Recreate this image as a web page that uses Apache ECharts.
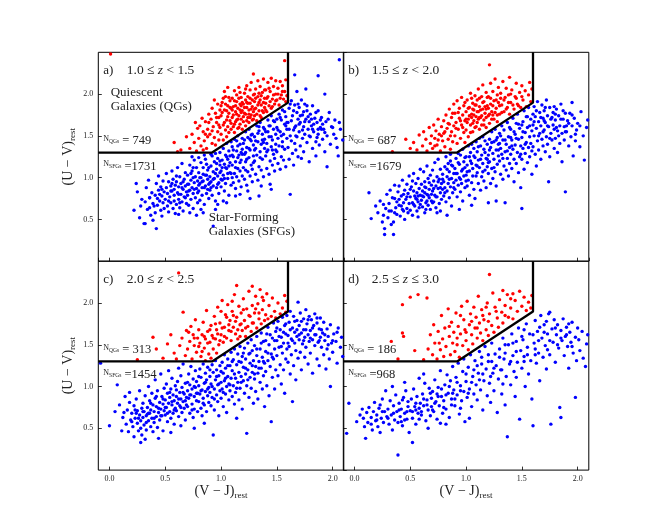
<!DOCTYPE html>
<html>
<head>
<meta charset="utf-8">
<script src="https://cdn.jsdelivr.net/npm/echarts@6/dist/echarts.min.js"></script>
<style>
  html, body { margin: 0; padding: 0; background: #fff; }
  #chart { width: 654px; height: 523px; }
</style>
</head>
<body>
<div id="chart"></div>
<script>
// panel text
const panelTags = ['a)', 'b)', 'c)', 'd)'];
const zLow = ['1.0', '1.5', '2.0', '2.5'];
const zHigh = ['1.5', '2.0', '2.5', '3.0'];
const zUpperOp = ['<', '<', '<', '≤'];
const nQGs = [749, 687, 313, 186];
const nSFGs = [1731, 1679, 1454, 968];

// axis ranges / ticks
const vjRange = [-0.1, 2.1];
const uvRange = [0, 2.5];
const uvStep = 0.5;

// UVJ selection box (V-J, U-V)
const uvjBox = [[-0.1, 1.3], [0.92, 1.3], [1.6, 1.898], [1.6, 2.5]];

// points, flat (V-J, U-V) pairs
const qgA = [0.58,1.42, 0.64,1.33, 0.69,1.49, 0.61,1.31, 0.72,1.35, 0.74,1.52, 0.76,1.42, 0.79,1.59, 0.78,1.32, 0.77,1.66,
  0.80,1.47, 0.81,1.62, 0.82,1.38, 0.83,1.71, 0.84,1.55, 0.85,1.44, 0.86,1.67, 0.87,1.35, 0.88,1.58, 0.89,1.76, 0.84,1.33, 0.88,1.49,
  0.90,1.52, 0.91,1.70, 0.92,1.41, 0.92,1.83, 0.93,1.61, 0.94,1.48, 0.95,1.77, 0.95,1.39, 0.96,1.66, 0.97,1.55, 0.97,1.88, 0.98,1.45, 0.98,1.72, 0.99,1.60, 0.99,1.81, 0.94,1.93,
  1.00,1.52, 1.00,1.74, 1.01,1.90, 1.02,1.63, 1.02,1.45, 1.03,1.81, 1.04,1.57, 1.04,1.97, 1.05,1.69, 1.05,1.49, 1.06,1.86, 1.06,1.61, 1.07,1.77, 1.07,1.54, 1.08,1.92, 1.08,1.68, 1.09,1.83, 1.09,1.58, 1.03,2.03, 1.06,2.08,
  1.10,1.72, 1.10,1.95, 1.11,1.61, 1.11,1.85, 1.12,2.04, 1.12,1.54, 1.13,1.79, 1.13,1.67, 1.14,1.91, 1.14,1.99, 1.15,1.59, 1.15,1.83, 1.16,1.74, 1.16,2.08, 1.17,1.64, 1.17,1.88, 1.18,1.96, 1.18,1.70, 1.19,1.80, 1.19,1.58, 1.14,1.76, 1.17,1.81,
  1.20,1.88, 1.20,1.67, 1.21,2.01, 1.21,1.77, 1.22,1.93, 1.22,1.62, 1.23,1.84, 1.23,2.10, 1.24,1.72, 1.24,1.97, 1.25,1.81, 1.25,1.66, 1.26,2.05, 1.26,1.89, 1.27,1.75, 1.27,2.14, 1.28,1.85, 1.28,1.69, 1.29,1.99, 1.29,1.79, 1.29,2.24, 1.23,1.90,
  1.30,1.91, 1.30,1.74, 1.31,2.06, 1.31,1.83, 1.32,1.68, 1.33,1.97, 1.33,2.16, 1.34,1.80, 1.35,1.93, 1.35,2.09, 1.36,1.72, 1.36,1.87, 1.37,2.02, 1.38,1.78, 1.38,2.18, 1.39,1.95, 1.39,1.84,
  1.40,1.89, 1.40,2.05, 1.41,1.79, 1.42,1.97, 1.42,2.14, 1.43,1.86, 1.44,2.03, 1.45,1.83, 1.45,2.19, 1.46,1.94, 1.47,2.09, 1.48,1.88, 1.49,2.00, 1.49,2.16,
  1.50,1.93, 1.51,2.07, 1.52,1.87, 1.53,2.15, 1.54,1.99, 1.55,2.10, 1.56,1.94, 1.57,2.03, 1.58,2.17, 1.59,1.98, 1.58,1.91,
  0.01,2.48, 1.57,2.40,
  1.01,1.78, 1.03,1.66, 1.04,1.88, 1.06,1.73, 1.08,1.84, 1.09,1.65, 1.11,1.75, 1.12,1.92, 1.13,1.86, 1.15,1.70, 1.16,1.95, 1.17,2.02, 1.18,1.78, 1.19,1.90, 1.20,1.73,
  1.21,1.84, 1.22,2.06, 1.23,1.68, 1.24,1.89, 1.25,1.76, 1.26,1.95, 1.27,1.82, 1.28,1.93, 1.29,1.70, 1.30,1.82, 1.31,1.95, 1.32,1.76, 1.33,1.87, 1.34,2.01, 1.35,1.74,
  1.36,1.98, 1.37,1.80, 1.38,1.90, 1.40,1.81, 1.41,1.95, 1.43,2.07, 1.44,1.91, 1.46,1.85, 1.47,1.99, 1.49,1.92, 1.51,2.00, 1.53,1.95, 1.55,2.03, 0.96,1.72, 0.98,1.63,
  1.00,1.86, 1.02,1.95, 1.05,1.80, 1.07,1.96, 1.10,1.81, 1.14,1.69, 1.18,1.86, 1.22,1.76, 1.26,1.72, 1.30,2.00, 1.34,1.90, 1.39,2.05, 0.92,1.56, 0.89,1.66, 0.86,1.52,
  1.12,1.64, 1.16,1.60];

const sfgA = [0.22,0.61, 0.25,0.83, 0.27,0.52, 0.29,0.74, 0.24,0.93, 0.28,0.66,
  0.31,0.45, 0.32,0.71, 0.33,0.88, 0.34,0.62, 0.35,0.97, 0.36,0.76, 0.37,0.55, 0.38,0.82, 0.39,0.49, 0.39,0.69, 0.42,0.39, 0.36,0.64,
  0.41,0.58, 0.41,0.79, 0.42,0.93, 0.43,0.67, 0.44,0.85, 0.44,1.02, 0.45,0.72, 0.46,0.61, 0.46,0.89, 0.47,0.78, 0.47,0.54, 0.48,0.96, 0.48,0.70, 0.49,0.83, 0.49,0.63, 0.45,0.80,
  0.50,0.74, 0.51,0.88, 0.51,1.05, 0.52,0.66, 0.52,0.81, 0.53,0.95, 0.53,0.59, 0.54,0.77, 0.55,0.90, 0.55,0.70, 0.56,1.08, 0.56,0.84, 0.57,0.63, 0.57,0.98, 0.58,0.79, 0.58,0.72, 0.59,0.91, 0.59,0.57, 0.55,0.84, 0.58,0.86,
  0.60,0.68, 0.60,0.95, 0.61,0.82, 0.61,1.12, 0.62,0.74, 0.62,0.89, 0.63,1.01, 0.63,0.64, 0.64,0.80, 0.64,0.93, 0.65,0.71, 0.65,1.17, 0.66,0.86, 0.66,0.60, 0.67,0.98, 0.67,0.77, 0.68,0.90, 0.68,1.06, 0.69,0.83, 0.69,0.69, 0.62,0.56, 0.66,0.95,
  0.70,0.79, 0.70,1.03, 0.71,0.92, 0.71,0.67, 0.72,1.15, 0.72,0.85, 0.73,0.97, 0.73,0.74, 0.74,1.08, 0.74,0.88, 0.75,0.63, 0.75,0.81, 0.76,1.21, 0.76,0.94, 0.77,0.76, 0.77,1.01, 0.78,0.87, 0.78,1.12, 0.79,0.70, 0.79,0.96, 0.72,0.58, 0.75,1.00, 0.78,0.55, 0.74,1.25,
  0.80,0.84, 0.80,1.06, 0.81,0.93, 0.81,0.73, 0.82,1.18, 0.82,1.00, 0.83,0.88, 0.83,0.79, 0.84,1.12, 0.84,0.96, 0.85,1.27, 0.85,0.68, 0.86,1.03, 0.86,0.90, 0.87,0.81, 0.87,1.16, 0.88,0.98, 0.88,1.09, 0.89,0.75, 0.89,0.92, 0.82,0.62, 0.86,1.22, 0.88,0.86, 0.84,0.58, 0.80,1.24,
  0.90,1.01, 0.90,0.85, 0.91,1.14, 0.91,0.95, 0.92,1.26, 0.92,0.79, 0.93,1.07, 0.93,0.90, 0.94,1.19, 0.94,0.99, 0.95,0.72, 0.95,1.29, 0.96,1.10, 0.96,0.88, 0.97,1.02, 0.97,1.23, 0.98,0.94, 0.98,0.81, 0.99,1.15, 0.99,1.30, 0.93,0.42, 0.95,0.62, 0.97,0.68, 0.91,1.28, 0.99,1.06,
  1.00,1.08, 1.00,0.89, 1.01,1.21, 1.01,0.97, 1.02,1.35, 1.02,1.03, 1.03,0.84, 1.03,1.16, 1.04,1.27, 1.04,0.93, 1.05,1.41, 1.05,1.11, 1.06,0.99, 1.06,1.22, 1.07,0.79, 1.07,1.32, 1.08,1.06, 1.08,1.18, 1.09,0.91, 1.09,1.43, 1.02,0.72, 1.05,0.70, 1.08,1.26, 1.04,1.12, 1.10,1.00,
  1.10,1.15, 1.10,1.37, 1.11,0.94, 1.11,1.25, 1.12,1.05, 1.12,1.46, 1.13,0.87, 1.13,1.19, 1.14,1.32, 1.14,1.01, 1.15,1.11, 1.15,1.50, 1.16,0.96, 1.16,1.27, 1.17,1.40, 1.17,1.08, 1.18,0.89, 1.18,1.21, 1.19,1.34, 1.19,1.47, 1.13,0.78, 1.17,0.80, 1.15,1.24, 1.19,1.02,
  1.20,1.12, 1.20,1.41, 1.21,0.98, 1.21,1.28, 1.22,1.55, 1.22,1.19, 1.23,0.91, 1.23,1.36, 1.24,1.07, 1.24,1.48, 1.25,1.24, 1.25,1.58, 1.26,1.02, 1.26,1.33, 1.27,1.15, 1.27,1.44, 1.28,0.95, 1.28,1.52, 1.29,1.26, 1.29,1.39, 1.24,0.84, 1.26,0.75, 1.22,1.30, 1.28,1.10,
  1.30,1.20, 1.30,1.49, 1.31,1.04, 1.31,1.35, 1.32,1.62, 1.32,1.27, 1.33,0.97, 1.33,1.43, 1.34,1.13, 1.34,1.56, 1.35,1.31, 1.35,1.66, 1.36,1.09, 1.36,1.40, 1.37,1.22, 1.37,1.52, 1.38,1.01, 1.38,1.60, 1.39,1.35, 1.39,1.46, 1.34,0.78, 1.36,0.90,
  1.40,1.26, 1.40,1.55, 1.41,1.11, 1.41,1.41, 1.42,1.69, 1.42,1.33, 1.43,1.04, 1.43,1.49, 1.44,1.20, 1.44,1.62, 1.45,1.37, 1.45,1.74, 1.46,1.15, 1.46,1.45, 1.47,1.28, 1.47,1.58, 1.48,1.08, 1.48,1.67, 1.49,1.40, 1.49,1.52, 1.44,0.92, 1.48,1.23,
  1.50,1.31, 1.50,1.60, 1.51,1.17, 1.51,1.47, 1.52,1.76, 1.52,1.38, 1.53,1.10, 1.53,1.55, 1.54,1.25, 1.54,1.69, 1.55,1.43, 1.55,1.81, 1.56,1.21, 1.56,1.52, 1.57,1.34, 1.57,1.64, 1.58,1.13, 1.58,1.73, 1.59,1.47, 1.59,1.58,
  1.60,1.36, 1.60,1.66, 1.61,1.22, 1.61,1.83, 1.62,1.50, 1.62,0.80, 1.63,1.44, 1.63,1.92, 1.64,1.29, 1.64,1.74, 1.65,1.57, 1.65,1.15, 1.66,1.41, 1.66,1.87, 1.67,1.62, 1.67,1.33, 1.68,1.78, 1.68,1.49, 1.69,1.25, 1.69,1.70,
  1.70,1.55, 1.70,1.84, 1.71,1.38, 1.71,1.66, 1.72,1.23, 1.72,1.93, 1.73,1.47, 1.73,1.75, 1.74,1.61, 1.74,1.31, 1.75,1.88, 1.75,1.52, 1.76,1.70, 1.77,1.42, 1.77,1.80, 1.78,1.58, 1.79,1.19, 1.79,1.67,
  1.80,1.49, 1.80,1.76, 1.81,1.62, 1.82,1.35, 1.82,1.86, 1.83,1.55, 1.84,1.71, 1.85,1.43, 1.85,1.26, 1.86,1.66, 1.87,1.80, 1.87,1.52, 1.88,1.39, 1.89,1.60,
  1.90,1.72, 1.91,1.46, 1.92,1.58, 1.93,1.31, 1.94,1.67, 1.95,1.13, 1.95,1.50, 1.97,1.78, 1.98,1.40, 1.99,1.61,
  2.01,1.52, 2.02,1.69, 2.04,1.36, 2.05,1.26, 2.07,1.58, 2.09,1.45,
  2.06,2.41, 1.93,2.00, 1.66,2.23, 1.87,2.22, 1.76,2.06, 1.68,2.03, 1.45,0.86, 0.32,0.45, 0.36,0.76,
  0.62,0.80, 0.65,0.88, 0.68,0.76, 0.71,0.84, 0.73,1.05, 0.76,0.86, 0.79,0.82, 0.81,1.00, 0.83,0.95, 0.85,0.88, 0.87,1.03, 0.89,1.12, 0.91,0.88, 0.93,0.98, 0.95,1.05,
  0.97,0.92, 0.99,1.20, 1.01,1.12, 1.03,0.99, 1.05,1.25, 1.07,1.14, 1.09,1.05, 1.11,1.33, 1.13,1.12, 1.15,1.38, 1.17,1.18, 1.19,1.28, 1.21,1.45, 1.23,1.22, 1.25,1.35,
  1.27,1.51, 1.29,1.18, 1.31,1.44, 1.33,1.53, 1.35,1.24, 1.37,1.45, 1.39,1.58, 1.41,1.31, 1.43,1.62, 1.45,1.49, 1.47,1.68, 1.49,1.33, 1.51,1.57, 1.53,1.72, 1.55,1.37,
  1.57,1.79, 1.59,1.66, 1.61,1.58, 1.63,1.68, 1.65,1.80, 1.67,1.50, 1.69,1.88, 1.71,1.74, 1.73,1.57, 1.75,1.67, 1.77,1.86, 1.79,1.50, 1.81,1.70, 1.83,1.64, 1.85,1.78,
  1.87,1.58, 1.89,1.69, 1.91,1.64, 1.93,1.54, 1.96,1.70, 2.00,1.60, 2.03,1.47, 2.06,1.66, 0.56,0.93, 0.60,1.02, 0.53,0.72, 0.47,0.86, 0.43,0.75, 0.40,0.66, 0.63,0.70,
  0.70,0.92, 0.75,1.12, 0.80,0.91, 0.84,1.04, 0.90,0.94, 0.96,1.17, 1.00,0.98, 1.06,1.05, 1.10,1.27, 1.14,1.44, 1.18,1.30, 1.22,1.09, 1.26,1.46, 1.30,1.33, 1.34,1.61,
  1.38,1.42, 1.42,1.55, 1.46,1.33, 1.50,1.70, 1.54,1.50, 1.58,1.62, 1.62,1.88, 1.66,1.60, 1.70,1.64, 1.74,1.79, 1.78,1.73, 1.82,1.58, 1.86,1.48, 1.90,1.58];

const qgB = [0.34,1.31, 0.46,1.46, 0.50,1.35, 0.53,1.42, 0.56,1.33, 0.58,1.51,
  0.61,1.38, 0.62,1.55, 0.64,1.46, 0.65,1.32, 0.67,1.60, 0.68,1.41, 0.69,1.50,
  0.70,1.35, 0.71,1.63, 0.72,1.47, 0.73,1.56, 0.74,1.39, 0.75,1.70, 0.76,1.52, 0.77,1.32, 0.78,1.61, 0.79,1.44,
  0.80,1.68, 0.80,1.53, 0.81,1.37, 0.82,1.75, 0.83,1.59, 0.84,1.46, 0.85,1.82, 0.85,1.64, 0.86,1.34, 0.87,1.55, 0.87,1.72, 0.88,1.43, 0.89,1.62, 0.89,1.88,
  0.90,1.50, 0.90,1.77, 0.91,1.66, 0.92,1.41, 0.92,1.92, 0.93,1.58, 0.94,1.71, 0.94,1.83, 0.95,1.47, 0.96,1.63, 0.96,1.96, 0.97,1.75, 0.98,1.54, 0.98,1.86, 0.99,1.68, 0.99,1.42,
  1.00,1.79, 1.00,1.57, 1.01,1.93, 1.02,1.70, 1.02,1.49, 1.03,1.84, 1.04,1.63, 1.04,2.01, 1.05,1.76, 1.06,1.55, 1.06,1.89, 1.07,1.68, 1.07,1.81, 1.08,1.98, 1.08,1.60, 1.09,1.73, 1.09,1.87, 1.05,1.72,
  1.10,1.66, 1.10,1.93, 1.11,1.79, 1.11,2.06, 1.12,1.58, 1.12,1.85, 1.13,1.72, 1.14,1.97, 1.14,1.63, 1.15,1.82, 1.15,2.11, 1.16,1.69, 1.16,1.91, 1.17,1.77, 1.18,2.02, 1.18,1.60, 1.19,1.86, 1.21,2.35,
  1.20,1.74, 1.20,1.97, 1.21,1.65, 1.22,1.88, 1.22,2.13, 1.23,1.79, 1.24,2.03, 1.25,1.70, 1.25,1.92, 1.26,2.18, 1.27,1.83, 1.28,1.99, 1.28,1.67, 1.29,2.08, 1.29,1.90,
  1.30,1.76, 1.31,2.01, 1.32,1.87, 1.33,2.15, 1.34,1.79, 1.35,1.96, 1.36,2.07, 1.37,1.84, 1.38,1.99, 1.39,1.76, 1.39,2.20,
  1.40,1.90, 1.41,2.05, 1.43,1.82, 1.44,1.97, 1.45,2.13, 1.46,1.88, 1.48,2.02, 1.49,1.84,
  1.50,2.10, 1.51,1.93, 1.53,2.04, 1.54,1.85, 1.56,1.99, 1.57,2.14, 1.58,1.91, 1.59,2.06,
  0.91,1.59, 0.93,1.78, 0.95,1.68, 0.97,1.60, 0.99,1.90, 1.01,1.66, 1.02,1.83, 1.03,1.74, 1.04,1.54, 1.05,1.95, 1.06,1.65, 1.07,1.75, 1.08,1.87, 1.09,1.61, 1.10,1.79,
  1.11,1.70, 1.12,1.95, 1.13,1.81, 1.14,1.74, 1.15,1.90, 1.16,1.63, 1.17,1.85, 1.18,1.72, 1.19,1.96, 1.20,1.83, 1.21,1.76, 1.22,1.95, 1.23,1.70, 1.24,1.86, 1.26,1.78,
  1.27,1.93, 1.28,1.75, 1.30,1.86, 1.31,1.95, 1.32,1.78, 1.34,1.93, 1.36,1.82, 1.38,1.90, 1.40,2.00, 1.42,1.87, 1.45,1.95, 1.47,1.86, 1.50,1.97, 0.84,1.65, 0.86,1.50,
  0.88,1.77, 0.81,1.55, 0.78,1.50, 0.75,1.45, 0.72,1.38, 1.00,1.70, 1.06,1.82, 1.12,1.72, 1.18,1.82, 1.24,1.75];

const sfgB = [0.13,0.82, 0.15,0.51, 0.19,0.66,
  0.21,0.58, 0.23,0.72, 0.25,0.47, 0.27,0.39, 0.27,0.32, 0.28,0.63, 0.29,0.80, 0.26,0.55,
  0.30,0.52, 0.31,0.69, 0.32,0.85, 0.33,0.60, 0.34,0.76, 0.35,0.32, 0.35,0.47, 0.36,0.91, 0.37,0.64, 0.38,0.71, 0.38,0.56, 0.39,0.83, 0.33,0.44, 0.36,0.58,
  0.40,0.67, 0.40,0.90, 0.41,0.54, 0.42,0.78, 0.43,0.62, 0.43,0.97, 0.44,0.70, 0.45,0.85, 0.45,0.50, 0.46,0.74, 0.47,0.63, 0.47,0.92, 0.48,0.81, 0.48,0.58, 0.49,0.69, 0.49,1.02, 0.44,0.80, 0.42,0.66,
  0.50,0.77, 0.50,0.61, 0.51,0.89, 0.52,0.70, 0.52,0.55, 0.53,0.84, 0.53,1.05, 0.54,0.66, 0.55,0.93, 0.55,0.75, 0.56,0.60, 0.56,0.82, 0.57,0.99, 0.57,0.71, 0.58,0.87, 0.58,0.64, 0.59,0.79, 0.59,1.10, 0.54,0.78, 0.57,0.53, 0.52,0.96,
  0.60,0.73, 0.60,0.92, 0.61,0.65, 0.61,0.84, 0.62,1.07, 0.62,0.77, 0.63,0.58, 0.63,0.95, 0.64,0.70, 0.64,0.88, 0.65,1.14, 0.65,0.80, 0.66,0.67, 0.66,0.99, 0.67,0.76, 0.67,0.86, 0.68,1.03, 0.68,0.62, 0.69,0.91, 0.69,0.72, 0.63,0.82, 0.66,0.79,
  0.70,0.84, 0.70,1.09, 0.71,0.71, 0.71,0.96, 0.72,0.79, 0.72,1.18, 0.73,0.64, 0.73,0.90, 0.74,1.01, 0.74,0.77, 0.75,0.87, 0.75,1.22, 0.76,0.69, 0.76,0.98, 0.77,0.82, 0.77,1.10, 0.78,0.93, 0.78,0.74, 0.79,1.04, 0.79,0.86, 0.74,0.58, 0.77,0.60,
  0.80,0.95, 0.80,0.78, 0.81,1.13, 0.81,0.88, 0.82,1.25, 0.82,0.71, 0.83,1.01, 0.83,0.84, 0.84,1.17, 0.84,0.93, 0.85,0.76, 0.85,1.07, 0.86,1.28, 0.86,0.89, 0.87,0.99, 0.87,0.66, 0.88,1.14, 0.88,0.82, 0.89,1.05, 0.89,0.94, 0.83,0.55, 0.86,1.20,
  0.90,1.11, 0.90,0.86, 0.91,1.23, 0.91,0.97, 0.92,0.77, 0.92,1.05, 0.93,1.29, 0.93,0.91, 0.94,1.16, 0.94,1.00, 0.95,0.83, 0.95,1.27, 0.96,1.08, 0.96,0.93, 0.97,1.34, 0.97,0.72, 0.98,1.19, 0.98,1.02, 0.99,0.88, 0.99,1.12, 0.94,0.62,
  1.00,1.03, 1.00,1.25, 1.01,0.90, 1.01,1.15, 1.02,1.38, 1.02,0.97, 1.03,1.08, 1.03,0.79, 1.04,1.30, 1.04,1.20, 1.05,0.94, 1.05,1.40, 1.06,1.11, 1.06,1.02, 1.07,1.35, 1.07,0.86, 1.08,1.24, 1.08,0.75, 1.09,1.15, 1.09,1.43, 1.05,0.67,
  1.10,1.06, 1.10,1.31, 1.11,0.93, 1.11,1.21, 1.12,1.47, 1.12,1.12, 1.13,0.85, 1.13,1.38, 1.14,1.01, 1.14,1.27, 1.15,1.17, 1.15,1.49, 1.16,0.96, 1.16,1.34, 1.17,1.09, 1.17,1.44, 1.18,1.23, 1.18,0.88, 1.19,1.40, 1.19,1.13, 1.20,0.70,
  1.20,1.27, 1.20,1.05, 1.21,1.46, 1.21,1.19, 1.22,0.93, 1.22,1.36, 1.23,1.55, 1.23,1.11, 1.24,1.29, 1.24,0.99, 1.25,1.43, 1.25,1.22, 1.26,1.58, 1.26,1.07, 1.27,1.33, 1.27,0.90, 1.28,1.48, 1.28,1.16, 1.29,1.26, 1.29,1.40, 1.27,0.72,
  1.30,1.20, 1.30,1.53, 1.31,1.04, 1.31,1.35, 1.32,1.62, 1.32,1.28, 1.33,0.98, 1.33,1.45, 1.34,1.14, 1.34,1.57, 1.35,1.31, 1.35,0.70, 1.36,1.40, 1.36,1.09, 1.37,1.66, 1.37,1.23, 1.38,1.49, 1.38,1.02, 1.39,1.36, 1.39,1.17,
  1.40,1.28, 1.40,1.58, 1.41,1.45, 1.41,1.11, 1.42,1.71, 1.42,1.34, 1.43,1.22, 1.43,0.95, 1.44,1.52, 1.44,1.39, 1.45,1.65, 1.45,1.17, 1.46,1.30, 1.46,1.76, 1.47,1.46, 1.47,1.06, 1.48,1.59, 1.48,1.25, 1.49,1.38, 1.49,0.88, 1.50,0.63,
  1.50,1.48, 1.50,1.22, 1.51,1.67, 1.51,1.35, 1.52,1.80, 1.52,1.10, 1.53,1.54, 1.53,1.29, 1.54,1.42, 1.54,1.73, 1.55,1.18, 1.55,1.60, 1.56,1.36, 1.56,1.84, 1.57,1.49, 1.57,1.25, 1.58,1.70, 1.58,1.41, 1.59,1.56, 1.59,1.04,
  1.60,1.63, 1.60,1.37, 1.61,1.85, 1.61,1.50, 1.62,1.28, 1.62,1.73, 1.63,1.59, 1.63,1.14, 1.64,1.44, 1.64,1.91, 1.65,1.67, 1.65,1.33, 1.66,1.78, 1.66,1.53, 1.67,1.22, 1.67,1.62, 1.68,1.87, 1.68,1.46, 1.69,1.71, 1.69,1.38,
  1.70,1.57, 1.70,1.80, 1.71,1.31, 1.71,1.66, 1.72,1.49, 1.72,1.93, 1.73,1.74, 1.73,1.40, 1.74,0.95, 1.74,1.61, 1.75,1.84, 1.75,1.25, 1.76,1.53, 1.76,1.70, 1.77,1.45, 1.78,1.78, 1.78,1.63, 1.79,1.35, 1.79,1.58,
  1.80,1.69, 1.80,1.47, 1.81,1.82, 1.82,1.56, 1.82,1.30, 1.83,1.74, 1.84,1.62, 1.84,1.41, 1.85,1.88, 1.86,1.53, 1.86,1.19, 1.87,1.70, 1.88,1.45, 1.88,1.61, 1.89,0.83, 1.89,1.77,
  1.90,1.55, 1.91,1.68, 1.92,1.38, 1.93,1.77, 1.94,1.49, 1.95,1.90, 1.95,1.62, 1.96,1.26, 1.97,1.71, 1.98,1.44, 1.99,1.57,
  2.00,1.65, 2.02,1.37, 2.03,1.79, 2.05,1.50, 2.06,1.21, 2.08,1.60, 2.09,1.69,
  0.40,0.74, 0.44,0.60, 0.47,0.77, 0.50,0.86, 0.53,0.68, 0.56,0.74, 0.59,0.68, 0.61,0.78, 0.63,0.89, 0.65,0.72, 0.67,0.94, 0.69,0.80, 0.71,0.87, 0.73,0.77, 0.75,0.95,
  0.77,0.88, 0.79,0.98, 0.81,0.82, 0.83,1.10, 0.85,0.98, 0.87,1.15, 0.89,0.88, 0.91,1.05, 0.93,1.18, 0.95,0.98, 0.97,1.10, 0.99,1.24, 1.01,1.07, 1.03,1.25, 1.05,1.17,
  1.07,1.26, 1.09,1.02, 1.11,1.37, 1.13,1.22, 1.15,1.07, 1.17,1.30, 1.19,1.22, 1.21,1.33, 1.23,1.42, 1.25,1.12, 1.27,1.45, 1.29,1.33, 1.31,1.50, 1.33,1.23, 1.35,1.45,
  1.37,1.32, 1.39,1.60, 1.41,1.38, 1.43,1.55, 1.45,1.47, 1.47,1.64, 1.49,1.28, 1.51,1.55, 1.53,1.40, 1.55,1.73, 1.57,1.62, 1.59,1.32, 1.61,1.67, 1.63,1.80, 1.65,1.50,
  1.67,1.72, 1.69,1.55, 1.71,1.84, 1.73,1.62, 1.75,1.47, 1.77,1.72, 1.79,1.85, 1.81,1.60, 1.83,1.50, 1.85,1.70, 1.87,1.80, 1.89,1.55, 1.92,1.65, 1.95,1.75, 1.98,1.52,
  2.02,1.62, 0.36,0.75, 0.31,0.60, 0.26,0.68, 0.57,0.78, 0.64,0.62, 0.70,0.70, 1.00,0.96, 1.10,1.14, 1.20,1.18, 1.30,1.41, 1.40,1.48, 1.50,1.63, 1.60,1.76, 1.70,1.68,
  1.80,1.76, 1.90,1.62];

const qgC = [0.25,1.32, 0.39,1.59, 0.48,1.34, 0.42,1.45, 0.52,1.51, 0.55,1.62, 0.58,1.40, 0.60,1.33, 0.62,2.36, 0.66,1.89,
  0.63,1.49, 0.65,1.58, 0.68,1.37, 0.69,1.67, 0.70,1.45, 0.72,1.54, 0.73,1.72, 0.74,1.33, 0.75,1.62, 0.76,1.49,
  0.77,1.80, 0.78,1.41, 0.79,1.58, 0.80,1.68, 0.81,1.52, 0.82,1.36, 0.83,1.62, 0.84,1.77, 0.85,1.46, 0.86,1.57,
  0.87,1.91, 0.88,1.66, 0.89,1.39, 0.90,1.53, 0.91,1.73, 0.92,1.61, 0.93,1.45, 0.94,1.84, 0.95,1.57, 0.96,1.68,
  0.97,1.95, 0.98,1.50, 0.99,1.76, 1.00,1.62, 1.01,2.03, 1.02,1.53, 1.03,1.71, 1.04,1.86, 1.05,1.58, 1.06,1.98,
  1.07,1.67, 1.08,1.79, 1.09,1.55, 1.10,1.90, 1.11,1.71, 1.12,2.10, 1.13,1.63, 1.14,1.83, 1.14,2.21, 1.15,1.57,
  1.16,1.96, 1.17,1.74, 1.18,1.88, 1.19,1.67, 1.20,2.05, 1.21,1.79, 1.22,1.60, 1.23,1.93, 1.24,1.72, 1.25,2.14,
  1.26,1.84, 1.27,1.66, 1.28,2.20, 1.28,1.97, 1.29,1.76, 1.30,1.88, 1.31,2.08, 1.32,1.70, 1.33,1.99, 1.34,1.81,
  1.35,2.16, 1.36,1.75, 1.37,1.92, 1.38,2.03, 1.39,1.79, 1.40,1.86, 1.41,2.11, 1.42,1.81, 1.43,1.97, 1.45,1.84,
  1.46,2.06, 1.48,1.90, 1.49,1.82, 1.51,2.00, 1.53,1.87, 1.55,1.94, 1.57,2.09, 1.58,1.89, 1.59,2.02, 0.96,1.40,
  0.91,1.34, 0.86,1.31,
  0.85,1.60, 0.88,1.52, 0.90,1.68, 0.93,1.58, 0.95,1.75, 0.97,1.63, 0.99,1.55, 1.01,1.70, 1.03,1.60, 1.05,1.83,
  1.07,1.74, 1.09,1.66, 1.11,1.85, 1.13,1.78, 1.15,1.68, 1.18,1.75, 1.20,1.92, 1.22,1.70, 1.25,1.85, 1.28,1.76,
  1.31,1.93, 1.34,1.88, 1.37,2.07, 0.80,1.48, 0.76,1.58, 0.71,1.65, 0.83,1.42, 1.00,1.90, 1.10,2.02, 1.17,1.60];

const sfgC = [-0.08,1.28, 0.00,0.53, 0.07,1.02, 0.09,0.78, 0.05,0.70,
  0.11,0.47, 0.12,0.63, 0.14,0.88, 0.15,0.55, 0.16,0.72, 0.17,0.46, 0.18,0.81, 0.19,0.60, 0.13,0.69, 0.18,0.93,
  0.20,0.68, 0.21,0.52, 0.22,0.77, 0.22,0.40, 0.23,0.62, 0.24,0.85, 0.25,0.56, 0.25,0.71, 0.26,0.47, 0.27,0.66, 0.27,0.95, 0.28,0.33, 0.28,0.59, 0.29,0.74, 0.29,0.42, 0.24,0.68,
  0.30,0.63, 0.30,0.80, 0.31,0.54, 0.31,0.70, 0.32,0.37, 0.32,0.89, 0.33,0.65, 0.33,0.48, 0.34,0.75, 0.35,0.59, 0.35,1.00, 0.36,0.68, 0.36,0.83, 0.37,0.52, 0.37,0.72, 0.38,0.62, 0.38,0.92, 0.39,0.78, 0.39,0.46, 0.34,0.67,
  0.40,0.70, 0.40,0.57, 0.41,0.86, 0.41,1.08, 0.42,0.64, 0.42,0.76, 0.43,0.51, 0.43,0.95, 0.44,0.69, 0.45,0.81, 0.45,0.60, 0.46,1.15, 0.46,0.73, 0.47,0.88, 0.47,0.65, 0.48,0.79, 0.48,0.47, 0.49,0.98, 0.49,0.71, 0.44,0.38,
  0.50,0.84, 0.50,0.66, 0.51,1.03, 0.51,0.75, 0.52,0.92, 0.52,0.58, 0.53,0.80, 0.53,1.19, 0.54,0.70, 0.54,0.87, 0.55,0.62, 0.55,0.97, 0.56,0.78, 0.56,1.10, 0.57,0.68, 0.57,0.90, 0.58,0.83, 0.58,0.55, 0.59,1.01, 0.59,0.74, 0.55,0.45,
  0.60,0.88, 0.60,0.71, 0.61,1.06, 0.61,0.80, 0.62,1.22, 0.62,0.64, 0.63,0.93, 0.63,0.77, 0.64,1.13, 0.64,0.85, 0.65,0.69, 0.65,0.99, 0.66,0.82, 0.66,1.27, 0.67,0.74, 0.67,0.91, 0.68,1.04, 0.68,0.60, 0.69,0.87, 0.69,0.78, 0.64,0.53,
  0.70,0.95, 0.70,0.76, 0.71,1.15, 0.71,0.86, 0.72,0.68, 0.72,1.02, 0.73,0.90, 0.73,1.24, 0.74,0.79, 0.74,0.97, 0.75,1.09, 0.75,0.63, 0.76,0.88, 0.76,0.73, 0.77,1.19, 0.77,0.99, 0.78,0.83, 0.78,1.06, 0.79,0.92, 0.79,0.70, 0.76,0.50,
  0.80,1.01, 0.80,0.82, 0.81,1.21, 0.81,0.91, 0.82,0.74, 0.82,1.11, 0.83,0.96, 0.83,0.65, 0.84,1.27, 0.84,0.86, 0.85,1.04, 0.85,0.78, 0.86,1.16, 0.86,0.94, 0.87,0.70, 0.87,1.08, 0.88,0.89, 0.88,1.23, 0.89,0.99, 0.89,0.81, 0.85,0.56,
  0.90,1.12, 0.90,0.93, 0.91,0.77, 0.91,1.03, 0.92,1.26, 0.92,0.87, 0.93,0.42, 0.93,1.17, 0.94,0.97, 0.94,0.72, 0.95,1.08, 0.95,1.31, 0.96,0.90, 0.96,1.20, 0.97,0.82, 0.97,1.02, 0.98,1.13, 0.98,0.65, 0.99,0.95, 0.99,1.25,
  1.00,1.05, 1.00,0.86, 1.01,1.29, 1.01,0.97, 1.02,1.16, 1.02,0.76, 1.03,1.38, 1.03,1.07, 1.04,0.91, 1.04,1.22, 1.05,1.00, 1.05,0.69, 1.06,1.33, 1.06,1.12, 1.07,0.84, 1.07,1.03, 1.08,1.25, 1.08,0.95, 1.09,1.41, 1.09,1.10,
  1.10,0.88, 1.10,1.19, 1.11,1.32, 1.11,1.01, 1.12,0.79, 1.12,1.45, 1.13,1.10, 1.13,0.93, 1.14,1.26, 1.15,1.05, 1.15,1.39, 1.16,0.84, 1.16,1.17, 1.17,1.48, 1.17,0.98, 1.18,1.29, 1.18,1.12, 1.19,0.73, 1.19,1.36, 1.14,0.62,
  1.20,1.07, 1.20,1.23, 1.21,1.46, 1.21,0.92, 1.22,1.15, 1.22,1.33, 1.23,0.44, 1.23,1.01, 1.24,1.52, 1.24,1.20, 1.25,0.87, 1.25,1.39, 1.26,1.11, 1.26,1.28, 1.27,0.98, 1.27,1.56, 1.28,1.17, 1.28,1.43, 1.29,0.80, 1.29,1.31,
  1.30,1.09, 1.30,1.49, 1.31,1.24, 1.31,0.94, 1.32,1.37, 1.32,1.60, 1.33,1.16, 1.33,0.85, 1.34,1.30, 1.35,1.45, 1.35,1.05, 1.36,1.22, 1.36,1.64, 1.37,0.97, 1.37,1.35, 1.38,1.13, 1.38,1.54, 1.39,1.28, 1.39,0.76,
  1.40,1.42, 1.40,1.18, 1.41,1.63, 1.41,1.01, 1.42,1.31, 1.42,1.71, 1.43,1.50, 1.43,0.89, 1.44,1.24, 1.45,1.39, 1.45,0.58, 1.46,1.58, 1.46,1.11, 1.47,1.33, 1.47,1.76, 1.48,1.45, 1.48,0.97, 1.49,1.20, 1.49,1.66,
  1.50,1.37, 1.50,1.55, 1.51,1.13, 1.51,1.78, 1.52,1.47, 1.53,1.26, 1.53,1.68, 1.54,1.03, 1.54,1.59, 1.55,1.40, 1.55,1.83, 1.56,1.20, 1.56,1.52, 1.57,1.73, 1.57,0.92, 1.58,1.33, 1.58,1.63, 1.59,1.45, 1.59,1.85,
  1.60,1.61, 1.60,1.29, 1.61,1.77, 1.61,1.48, 1.62,1.15, 1.62,1.90, 1.63,1.57, 1.63,1.38, 1.64,1.70, 1.65,1.25, 1.65,1.84, 1.66,1.52, 1.66,1.65, 1.67,1.08, 1.67,1.43, 1.68,1.79, 1.68,1.60, 1.69,2.01, 1.69,1.34, 1.64,0.82,
  1.70,1.56, 1.70,1.73, 1.71,1.41, 1.71,1.88, 1.72,1.64, 1.72,1.20, 1.73,1.51, 1.74,1.81, 1.74,1.68, 1.75,1.35, 1.75,1.59, 1.76,1.92, 1.76,1.47, 1.77,1.75, 1.78,1.62, 1.78,1.27, 1.79,1.54, 1.79,1.84,
  1.80,1.67, 1.80,1.40, 1.81,1.80, 1.82,1.56, 1.82,1.16, 1.83,1.73, 1.84,1.49, 1.84,1.87, 1.85,1.62, 1.86,1.33, 1.86,1.76, 1.87,1.53, 1.88,1.69, 1.88,1.25, 1.89,1.59, 1.89,1.82,
  1.90,1.47, 1.91,1.64, 1.92,1.38, 1.92,1.77, 1.93,1.55, 1.94,1.21, 1.95,1.69, 1.95,1.45, 1.96,1.60, 1.97,1.33, 1.98,1.00, 1.98,1.74, 1.99,1.52,
  2.00,1.41, 2.01,1.63, 2.03,1.54, 2.04,1.28, 2.05,1.70, 2.07,1.47, 2.08,1.59, 2.09,1.36,
  0.20,0.58, 0.23,0.72, 0.26,0.62, 0.28,0.50, 0.30,0.70, 0.33,0.57, 0.35,0.68, 0.37,0.80, 0.40,0.62, 0.42,0.88, 0.44,0.74, 0.46,0.65, 0.48,0.85, 0.50,0.75, 0.52,0.68,
  0.54,0.93, 0.56,0.82, 0.58,0.72, 0.60,0.96, 0.62,0.85, 0.64,0.75, 0.66,0.93, 0.68,0.83, 0.70,1.05, 0.72,0.90, 0.74,0.72, 0.76,1.00, 0.78,0.92, 0.80,1.12, 0.82,0.95,
  0.84,0.80, 0.86,1.05, 0.88,0.97, 0.90,1.20, 0.92,1.00, 0.94,0.85, 0.96,1.12, 0.98,1.03, 1.00,1.18, 1.02,0.93, 1.04,1.10, 1.06,1.25, 1.08,1.02, 1.10,1.30, 1.12,1.15,
  1.14,0.98, 1.16,1.30, 1.18,1.05, 1.20,1.40, 1.22,1.22, 1.24,1.08, 1.26,1.40, 1.28,1.25, 1.30,1.15, 1.32,1.45, 1.34,1.22, 1.36,1.52, 1.38,1.30, 1.40,1.55, 1.42,1.40,
  1.44,1.62, 1.46,1.35, 1.48,1.55, 1.50,1.70, 1.52,1.60, 1.54,1.48, 1.56,1.65, 1.58,1.75, 1.60,1.52, 1.62,1.68, 1.64,1.55, 1.66,1.78, 1.68,1.68, 1.70,1.62, 1.72,1.78,
  1.74,1.55, 1.76,1.68, 1.78,1.80, 1.80,1.58, 1.82,1.70, 1.84,1.62, 1.86,1.82, 1.88,1.55, 1.90,1.68, 1.93,1.62, 1.96,1.50, 2.00,1.55, 2.04,1.65];

const qgD = [1.21,2.34, 0.57,2.10, 0.50,2.07, 0.65,2.06, 0.43,1.98, 0.43,1.64, 0.44,1.60, 0.33,1.54, 0.54,1.43, 0.39,1.33,
  1.59,2.09, 1.42,2.11, 1.33,2.15, 0.62,1.32, 0.66,1.45, 0.68,1.62, 0.70,1.38, 0.71,1.74, 0.72,1.52, 0.74,1.33,
  0.75,1.66, 0.77,1.44, 0.78,1.85, 0.79,1.57, 0.80,1.36, 0.81,1.70, 0.82,1.48, 0.84,1.93, 0.85,1.60, 0.86,1.38,
  0.87,1.77, 0.88,1.52, 0.89,1.65, 0.90,1.42, 0.91,1.88, 0.92,1.58, 0.93,1.72, 0.94,1.35, 0.95,1.63, 0.96,1.96,
  0.97,1.49, 0.98,1.80, 0.99,1.68, 1.00,1.55, 1.01,2.02, 1.02,1.44, 1.03,1.74, 1.04,1.87, 1.05,1.62, 1.06,1.51,
  1.07,1.95, 1.08,1.70, 1.09,1.83, 1.10,1.58, 1.11,2.08, 1.12,1.76, 1.13,1.64, 1.14,1.92, 1.15,1.55, 1.16,1.80,
  1.18,1.68, 1.19,2.00, 1.20,1.61, 1.21,1.87, 1.23,1.73, 1.24,2.12, 1.25,1.65, 1.26,1.95, 1.28,1.82, 1.29,1.71,
  1.30,2.04, 1.32,1.89, 1.33,1.76, 1.35,1.97, 1.37,2.10, 1.38,1.83, 1.40,1.94, 1.42,1.81, 1.44,2.03, 1.46,1.90,
  1.48,2.14, 1.50,1.96, 1.52,2.07, 1.54,1.91, 1.56,2.01, 1.58,1.94,
  0.92,1.50, 1.00,1.65, 1.05,1.78, 1.10,1.70, 1.15,1.85, 1.20,1.78, 1.27,1.90, 1.35,1.85, 0.85,1.72, 0.95,1.85,
  1.18,1.95, 0.76,1.52, 1.40,2.05];

const sfgD = [-0.07,0.44, -0.05,0.80, 0.02,0.58, 0.05,0.66, 0.07,0.73, 0.09,0.52, 0.08,0.62,
  0.10,0.38, 0.11,0.69, 0.12,0.57, 0.13,0.75, 0.15,0.63, 0.16,0.48, 0.17,0.70, 0.18,0.81, 0.19,0.59,
  0.20,0.66, 0.21,0.52, 0.22,0.74, 0.23,0.45, 0.24,0.62, 0.25,0.85, 0.26,0.57, 0.27,0.70, 0.28,0.95, 0.29,0.64, 0.23,0.78,
  0.30,0.73, 0.31,0.55, 0.32,0.83, 0.33,0.66, 0.34,0.48, 0.35,0.77, 0.36,0.60, 0.37,0.90, 0.38,0.70, 0.39,0.18, 0.39,0.57, 0.34,1.00,
  0.40,0.80, 0.41,0.64, 0.42,0.73, 0.43,0.53, 0.44,0.87, 0.45,0.68, 0.46,0.95, 0.47,0.61, 0.48,0.76, 0.49,0.45, 0.45,1.05, 0.43,0.84, 0.47,0.70,
  0.50,0.71, 0.51,0.85, 0.52,0.33, 0.52,0.62, 0.53,0.97, 0.54,0.76, 0.55,0.55, 0.56,0.88, 0.57,0.68, 0.58,1.10, 0.59,0.80, 0.55,0.72, 0.58,0.61,
  0.60,0.66, 0.61,0.91, 0.62,0.77, 0.63,1.04, 0.64,0.59, 0.65,0.84, 0.66,0.72, 0.67,0.98, 0.68,0.65, 0.69,0.86, 0.62,1.15, 0.66,0.50, 0.69,0.76,
  0.70,0.94, 0.71,0.70, 0.72,1.08, 0.73,0.82, 0.74,0.61, 0.75,0.99, 0.76,0.77, 0.77,1.19, 0.78,0.88, 0.79,0.68, 0.74,0.91, 0.77,0.56,
  0.80,0.83, 0.81,1.02, 0.82,0.73, 0.83,1.14, 0.84,0.92, 0.85,0.63, 0.86,1.07, 0.87,0.85, 0.88,1.24, 0.89,0.96, 0.82,0.55, 0.87,0.78,
  0.90,0.77, 0.91,1.11, 0.92,0.90, 0.93,1.28, 0.94,0.67, 0.95,1.01, 0.96,0.83, 0.97,1.18, 0.98,0.94, 0.99,0.58, 0.95,0.74, 0.98,1.33,
  1.00,1.06, 1.01,0.87, 1.02,1.23, 1.03,0.97, 1.04,1.38, 1.05,0.76, 1.06,1.12, 1.07,0.91, 1.08,1.31, 1.09,1.02, 1.03,0.62, 1.07,1.20,
  1.10,0.84, 1.11,1.16, 1.12,1.42, 1.13,0.96, 1.14,1.27, 1.15,0.72, 1.16,1.07, 1.17,1.48, 1.18,1.21, 1.19,0.89, 1.14,1.35,
  1.20,1.30, 1.21,1.04, 1.22,0.81, 1.23,1.52, 1.24,1.16, 1.25,0.95, 1.26,1.39, 1.27,1.25, 1.28,0.69, 1.29,1.09, 1.23,1.30,
  1.30,1.45, 1.31,1.20, 1.32,0.91, 1.33,1.58, 1.34,1.33, 1.35,0.78, 1.36,1.12, 1.37,0.40, 1.38,1.50, 1.39,1.27, 1.33,1.03, 1.35,1.40,
  1.40,1.02, 1.41,1.63, 1.42,1.37, 1.43,1.18, 1.44,0.88, 1.45,1.54, 1.46,1.29, 1.47,1.70, 1.48,0.61, 1.49,1.43, 1.45,1.11,
  1.50,1.22, 1.51,1.56, 1.52,1.36, 1.53,1.00, 1.54,1.75, 1.55,1.47, 1.56,1.15, 1.57,1.63, 1.58,1.31, 1.59,0.85, 1.60,0.53, 1.52,1.68,
  1.61,1.52, 1.62,1.79, 1.63,1.28, 1.64,1.66, 1.65,1.40, 1.66,1.07, 1.67,1.85, 1.68,1.58, 1.69,1.35, 1.62,1.45, 1.66,1.71,
  1.70,1.74, 1.71,1.49, 1.72,1.21, 1.73,1.63, 1.74,1.87, 1.75,1.38, 1.75,1.89, 1.76,0.55, 1.77,1.69, 1.78,1.53, 1.79,1.80, 1.73,1.44,
  1.80,1.29, 1.81,1.62, 1.82,1.74, 1.83,1.46, 1.84,0.75, 1.85,1.67, 1.85,0.63, 1.86,1.55, 1.87,1.81, 1.88,1.37, 1.89,1.60,
  1.90,1.71, 1.91,1.48, 1.92,1.22, 1.93,1.65, 1.94,1.53, 1.95,1.77, 1.96,1.40, 1.98,0.87, 1.98,1.59, 1.99,1.31,
  2.01,1.56, 2.02,1.43, 2.04,1.66, 2.05,1.34, 2.07,1.24, 2.08,1.51, 2.09,1.62,
  0.30,0.62, 0.35,0.68, 0.40,0.72, 0.45,0.60, 0.48,0.82, 0.52,0.70, 0.55,0.80, 0.58,0.74, 0.62,0.85, 0.65,0.78, 0.68,0.92, 0.72,0.80, 0.75,0.88, 0.78,0.97, 0.82,0.90,
  0.85,1.00, 0.88,0.92, 0.92,1.05, 0.95,0.95, 1.00,1.15, 1.05,1.05, 1.10,1.25, 1.15,1.15, 1.20,1.38, 1.25,1.22, 1.30,1.35, 1.35,1.50, 1.40,1.30, 1.45,1.42, 1.50,1.60,
  1.55,1.38, 1.60,1.62, 1.65,1.55, 1.70,1.65, 1.75,1.55, 1.80,1.70, 1.85,1.58, 1.90,1.62, 1.95,1.48, 2.00,1.70, 0.25,0.70, 0.20,0.60, 0.15,0.55, 0.42,0.58, 0.60,0.70,
  0.70,0.72, 0.80,0.75, 0.90,0.85, 1.02,0.92, 1.12,1.08, 1.22,1.12, 1.32,1.20, 1.42,1.52, 1.52,1.30, 1.62,1.38, 1.72,1.78, 1.82,1.50, 1.92,1.75];

const qgSets = [qgA, qgB, qgC, qgD];
const sfgSets = [sfgA, sfgB, sfgC, sfgD];

const SERIF = '"Liberation Serif", "DejaVu Serif", serif';
const INK = '#222';

function pairs(flat) {
  const out = [];
  for (let i = 0; i < flat.length; i += 2) out.push([flat[i], flat[i + 1]]);
  return out;
}

// panel boxes in px
const boxes = [
  { left: 98.3, top: 52.3 },
  { left: 343.3, top: 52.3 },
  { left: 98.3, top: 261.2 },
  { left: 343.3, top: 261.2 }
];
const boxW = 245.5, boxH = 208.9;

const grid = [], xAxis = [], yAxis = [], series = [], graphic = [];

boxes.forEach((b, i) => {
  const isLeft = i % 2 === 0, isBottom = i >= 2;
  grid.push({ left: b.left, top: b.top, width: boxW, height: boxH, show: true,
    borderColor: '#000', borderWidth: 1, backgroundColor: 'transparent', containLabel: false });
  xAxis.push({
    type: 'value', gridIndex: i, min: vjRange[0], max: vjRange[1], splitNumber: 5,
    axisLine: { show: false, onZero: false }, splitLine: { show: false },
    axisTick: { show: true, inside: true, length: 3.5, lineStyle: { color: '#000', width: 0.8 } },
    axisLabel: { show: isBottom, showMinLabel: false, showMaxLabel: false, margin: 5,
      fontFamily: SERIF, fontSize: 8, color: INK, formatter: v => v.toFixed(1) }
  });
  yAxis.push({
    type: 'value', gridIndex: i, min: uvRange[0], max: uvRange[1], interval: uvStep,
    axisLine: { show: false, onZero: false }, splitLine: { show: false },
    axisTick: { show: true, inside: true, length: 3.5, lineStyle: { color: '#000', width: 0.8 } },
    axisLabel: { show: isLeft, showMinLabel: false, showMaxLabel: false, margin: 5,
      fontFamily: SERIF, fontSize: 8, color: INK, formatter: v => v.toFixed(1) }
  });

  series.push({ type: 'scatter', xAxisIndex: i, yAxisIndex: i, data: pairs(sfgSets[i]),
    symbolSize: 3.4, itemStyle: { color: '#0000ff', opacity: 1 }, silent: true, z: 2 });
  series.push({ type: 'scatter', xAxisIndex: i, yAxisIndex: i, data: pairs(qgSets[i]),
    symbolSize: 3.4, itemStyle: { color: '#ff0000', opacity: 1 }, silent: true, z: 3 });
  series.push({ type: 'line', xAxisIndex: i, yAxisIndex: i, data: uvjBox, symbol: 'none',
    lineStyle: { color: '#000', width: 2.3 }, silent: true, z: 5 });

  // panel annotations
  const x0 = b.left + 5;
  graphic.push({ type: 'text', x: x0, y: b.top + 18, silent: true,
    style: { text: panelTags[i], fontFamily: SERIF, fontSize: 13, fill: INK, verticalAlign: 'middle' } });
  graphic.push({ type: 'text', x: b.left + 28.5, y: b.top + 18, silent: true,
    style: {
      text: '{m|' + zLow[i] + ' ≤ }{i|z}{m| ' + zUpperOp[i] + ' ' + zHigh[i] + '}',
      verticalAlign: 'middle', fill: INK,
      rich: {
        m: { fontFamily: SERIF, fontSize: 13.5, fill: INK },
        i: { fontFamily: SERIF, fontSize: 13.5, fontStyle: 'italic', fill: INK }
      }
    } });
  const nRich = {
    n: { fontFamily: SERIF, fontSize: 8, lineHeight: 8, padding: [0.5, 0, 0, 0], verticalAlign: 'top', fill: INK },
    s: { fontFamily: SERIF, fontSize: 5.5, lineHeight: 6, padding: [4, 0, 0, 0], verticalAlign: 'top', fill: INK },
    v: { fontFamily: SERIF, fontSize: 12.5, lineHeight: 12, verticalAlign: 'top', fill: INK }
  };
  graphic.push({ type: 'text', x: x0, y: b.top + 88, silent: true,
    style: { text: '{n|N}{s|QGs}{v| = ' + nQGs[i] + '}', verticalAlign: 'middle', rich: nRich } });
  graphic.push({ type: 'text', x: x0, y: b.top + 113.5, silent: true,
    style: { text: '{n|N}{s|SFGs}{v| =' + nSFGs[i] + '}', verticalAlign: 'middle', rich: nRich } });
});

// region names, panel a
graphic.push({ type: 'text', x: 110.7, y: 99.7, silent: true,
  style: { text: 'Quiescent\nGalaxies (QGs)', fontFamily: SERIF, fontSize: 13, lineHeight: 14, fill: INK, verticalAlign: 'middle' } });
graphic.push({ type: 'text', x: 208.7, y: 225, silent: true,
  style: { text: 'Star-Forming\nGalaxies (SFGs)', fontFamily: SERIF, fontSize: 13, lineHeight: 14, fill: INK, verticalAlign: 'middle' } });

// axis titles
const titleRich = {
  m: { fontFamily: SERIF, fontSize: 14, lineHeight: 14, verticalAlign: 'top', fill: INK },
  s: { fontFamily: SERIF, fontSize: 9, lineHeight: 9, padding: [7, 0, 0, 0], verticalAlign: 'top', fill: INK }
};
[156.8, 365.6].forEach(cy => {
  graphic.push({ type: 'text', x: 68, y: cy, rotation: Math.PI / 2, silent: true,
    style: { text: '{m|(U − V)}{s|rest}', align: 'center', verticalAlign: 'middle', rich: titleRich } });
});
[221, 466].forEach(cx => {
  graphic.push({ type: 'text', x: cx, y: 491, silent: true,
    style: { text: '{m|(V − J)}{s|rest}', align: 'center', verticalAlign: 'middle', rich: titleRich } });
});

const chart = echarts.init(document.getElementById('chart'), null, { renderer: 'canvas' });
chart.setOption({
  backgroundColor: '#fff',
  animation: false,
  grid, xAxis, yAxis, series, graphic
});
</script>
</body>
</html>
